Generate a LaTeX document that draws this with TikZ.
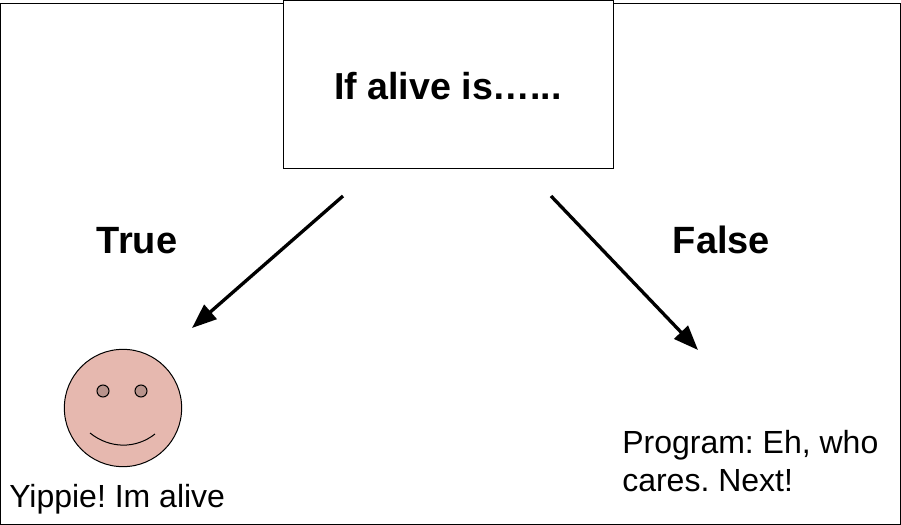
\documentclass[tikz,border=0pt]{standalone}
\usepackage{fontspec}
\setmainfont{Liberation Sans}
\usetikzlibrary{arrows.meta}
\definecolor{face}{HTML}{E6B8AF}
\definecolor{eye}{HTML}{B8938C}
\tikzset{
 x=0.75pt,y=-0.75pt,
 big/.style={font=\fontsize{28.5pt}{32pt}\selectfont\bfseries,inner sep=0,anchor=base},
 small/.style={font=\fontsize{24pt}{28.5pt}\selectfont\frenchspacing,inner sep=0},
 arr/.style={line width=2.5pt,-{Triangle[length=18.5pt,width=14pt]}},
 thin line/.style={draw=black,line width=0.9pt}
}
\begin{document}
\begin{tikzpicture}
\useasboundingbox (0,0) rectangle (901,525);
\draw[thin line] (0.5,3.5) rectangle (900.5,524.5);
\node[draw=black,fill=white,line width=0.9pt,minimum width=247.2pt,minimum height=126pt,inner sep=0,outer sep=0,anchor=north west] (box) at (283.5,0.5) {};
\node[font=\fontsize{28.2pt}{32pt}\selectfont\bfseries,inner sep=0,anchor=base] (title) at (448,99) {If alive is…...};
\node[big] (t) at (137,253) {True};
\node[big] (f) at (721.5,253) {False};
\coordinate (a1s) at (343,196);
\coordinate (a1e) at (192,328);
\coordinate (a2s) at (551,196);
\coordinate (a2e) at (698,350);
\draw[arr] (a1s) -- (a1e);
\draw[arr] (a2s) -- (a2e);
\node[circle,draw=black,fill=face,line width=0.75pt,minimum size=88pt,inner sep=0] (smile) at (123,408) {};
\node[circle,draw=black,fill=eye,line width=0.75pt,minimum size=9pt,inner sep=0] (e1) at (103,391) {};
\node[circle,draw=black,fill=eye,line width=0.75pt,minimum size=9pt,inner sep=0] (e2) at (141,391) {};
\draw[line width=0.75pt] (90,433) .. controls (110,449) and (136,449) .. (155,434);
\node[small,anchor=base west] (yip) at (9,507) {Yippie! Im alive};
\node[small,anchor=base west,align=left] (prog) at (622,491.5) {Program: Eh, who\\cares. Next!};
\end{tikzpicture}
\end{document}
